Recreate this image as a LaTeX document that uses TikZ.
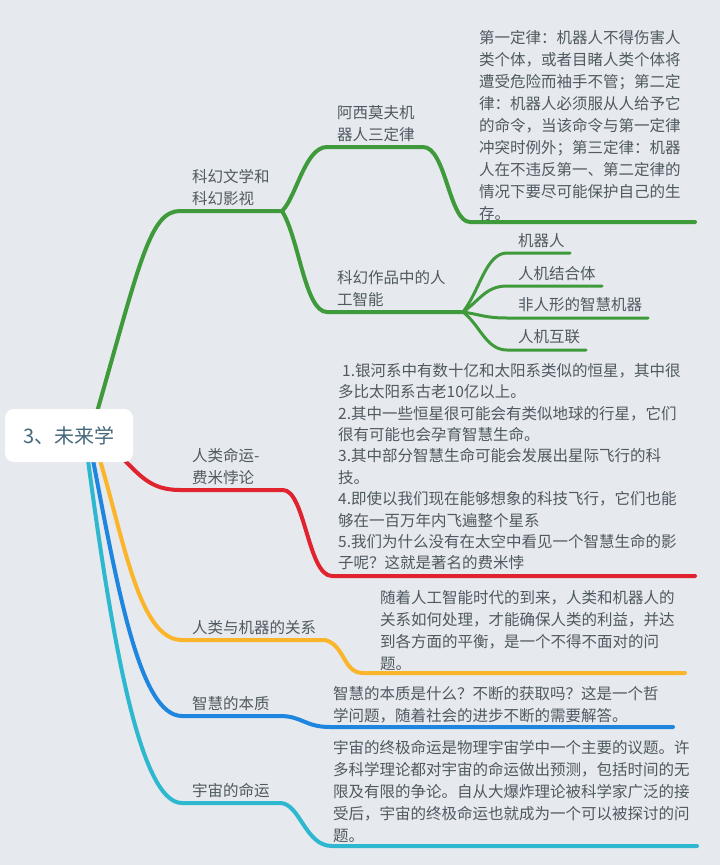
\documentclass[tikz,border=0pt]{standalone}
\usepackage{fontspec}
\setmainfont{Noto Sans CJK SC}
\usetikzlibrary{positioning}
\definecolor{bgc}{HTML}{E6E9ED}
\definecolor{txtc}{HTML}{4F5961}
\definecolor{roottxt}{HTML}{45687B}
\definecolor{cgreen}{HTML}{3E9A3B}
\definecolor{cred}{HTML}{E0232E}
\definecolor{corange}{HTML}{FBB52B}
\definecolor{cblue}{HTML}{1F86E0}
\definecolor{ccyan}{HTML}{2DB8D0}
\tikzset{
  root/.style={fill=white, rounded corners=9pt, minimum width=128pt, minimum height=53pt,
    text=roottxt, font=\fontsize{20}{24}\selectfont},
  lbl/.style={anchor=south west, inner sep=0pt, align=left, text=txtc,
    font=\fontsize{15.5}{22}\selectfont},
  body/.style={anchor=north west, inner sep=0pt, align=left, text=txtc,
    font=\fontsize{15.5}{22}\selectfont},
  br/.style={line width=4pt, line cap=round},
  leaf/.style={line width=3pt, line cap=round},
}
\begin{document}
\begin{tikzpicture}[x=1pt, y=-1pt]
\useasboundingbox[fill=bgc] (0,0) rectangle (720,865);

% underline ends of every topic
\coordinate (sf-a) at (180,211);  \coordinate (sf-b) at (282,211);
\coordinate (as-a) at (327,147);  \coordinate (as-b) at (423,147);
\coordinate (law-a) at (470,222); \coordinate (law-b) at (695,222);
\coordinate (ai-a) at (327,312);  \coordinate (ai-b) at (463,312);
\coordinate (l1-a) at (507,253);  \coordinate (l1-b) at (570,253);
\coordinate (l2-a) at (507,286);  \coordinate (l2-b) at (602,286);
\coordinate (l3-a) at (507,318);  \coordinate (l3-b) at (648,318);
\coordinate (l4-a) at (507,350);  \coordinate (l4-b) at (586,350);
\coordinate (fe-a) at (180,490);  \coordinate (fe-b) at (283,490);
\coordinate (fet-a) at (332,576); \coordinate (fet-b) at (695,576);
\coordinate (re-a) at (182,640);  \coordinate (re-b) at (325,640);
\coordinate (ret-a) at (363,673); \coordinate (ret-b) at (685,673);
\coordinate (wi-a) at (182,716);  \coordinate (wi-b) at (280,716);
\coordinate (wit-a) at (330,727); \coordinate (wit-b) at (673,727);
\coordinate (co-a) at (182,803);  \coordinate (co-b) at (280,803);
\coordinate (cot-a) at (332,846); \coordinate (cot-b) at (697,846);

% branches, drawn behind the root box
\draw[br, ccyan] (88,460) .. controls (112,640) and (140,803) .. (co-a) -- (co-b)
  .. controls (300,803) and (305,846) .. (cot-a) -- (cot-b);
\draw[br, cblue] (93,460) .. controls (118,590) and (140,716) .. (wi-a) -- (wi-b)
  .. controls (302,716) and (305,727) .. (wit-a) -- (wit-b);
\draw[br, corange] (100,460) .. controls (125,545) and (140,640) .. (re-a) -- (re-b)
  .. controls (345,645) and (343,673) .. (ret-a) -- (ret-b);
\draw[br, cred] (122,458) .. controls (140,475) and (150,490) .. (fe-a) -- (fe-b)
  .. controls (305,490) and (308,576) .. (fet-a) -- (fet-b);
\draw[br, cgreen] (97,412) .. controls (140,262) and (150,211) .. (sf-a) -- (sf-b);
\draw[br, cgreen] (sf-b) .. controls (296,198) and (305,147) .. (as-a) -- (as-b)
  .. controls (446,147) and (449,222) .. (law-a) -- (law-b);
\draw[br, cgreen] (sf-b) .. controls (299,238) and (305,312) .. (ai-a) -- (ai-b);
\draw[leaf, cgreen] (ai-b) .. controls (480,290) and (486,253) .. (l1-a) -- (l1-b);
\draw[leaf, cgreen] (ai-b) .. controls (480,300) and (486,286) .. (l2-a) -- (l2-b);
\draw[leaf, cgreen] (ai-b) .. controls (482,315) and (486,318) .. (l3-a) -- (l3-b);
\draw[leaf, cgreen] (ai-b) .. controls (480,325) and (486,350) .. (l4-a) -- (l4-b);

\node[root] (root) at (69,435.5) {3、未来学};

% topic labels
\node[lbl] (sf) at (192,205.5) {科幻文学和\\科幻影视};
\node[lbl] (asimov) at (337,141.5) {阿西莫夫机\\器人三定律};
\node[lbl] (sfai) at (337,306.5) {科幻作品中的人\\工智能};
\node[lbl] (robot) at (518,247.5) {机器人};
\node[lbl] (cyborg) at (518,280.5) {人机结合体};
\node[lbl] (machine) at (518,312.5) {非人形的智慧机器};
\node[lbl] (link) at (518,344.5) {人机互联};
\node[lbl] (fermi) at (192,484.5) {人类命运-\\费米悖论};
\node[lbl] (relation) at (192,634.5) {人类与机器的关系};
\node[lbl] (wisdom) at (192,710.5) {智慧的本质};
\node[lbl] (cosmos) at (192,797.5) {宇宙的命运};

% long texts
\node[body] (lawtxt) at (479,30) {第一定律：机器人不得伤害人\\类个体，或者目睹人类个体将\\遭受危险而袖手不管；第二定\\律：机器人必须服从人给予它\\的命令，当该命令与第一定律\\冲突时例外；第三定律：机器\\人在不违反第一、第二定律的\\情况下要尽可能保护自己的生\\存。};
\node[body, font=\fontsize{15.5}{21.4}\selectfont] (fermitxt) at (338,363) {\hspace{4pt}1.银河系中有数十亿和太阳系类似的恒星，其中很\\多比太阳系古老10亿以上。\\2.其中一些恒星很可能会有类似地球的行星，它们\\很有可能也会孕育智慧生命。\\3.其中部分智慧生命可能会发展出星际飞行的科\\技。\\4.即使以我们现在能够想象的科技飞行，它们也能\\够在一百万年内飞遍整个星系\\5.我们为什么没有在太空中看见一个智慧生命的影\\子呢？这就是著名的费米悖};
\node[body] (reltxt) at (380,590) {随着人工智能时代的到来，人类和机器人的\\关系如何处理，才能确保人类的利益，并达\\到各方面的平衡，是一个不得不面对的问\\题。};
\node[body] (wistxt) at (333,686) {智慧的本质是什么？不断的获取吗？这是一个哲\\学问题，随着社会的进步不断的需要解答。};
\node[body] (costxt) at (333,740) {宇宙的终极命运是物理宇宙学中一个主要的议题。许\\多科学理论都对宇宙的命运做出预测，包括时间的无\\限及有限的争论。自从大爆炸理论被科学家广泛的接\\受后，宇宙的终极命运也就成为一个可以被探讨的问\\题。};
\end{tikzpicture}
\end{document}
